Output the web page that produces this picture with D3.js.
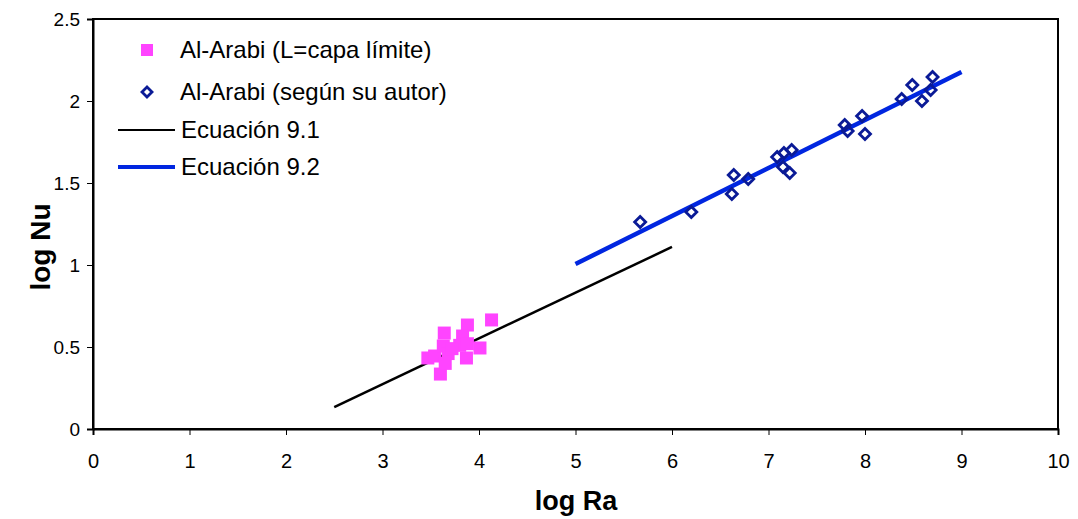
<!DOCTYPE html>
<html><head><meta charset="utf-8">
<script src="https://cdn.jsdelivr.net/npm/d3@7"></script>
<style>body{margin:0;background:#fff}svg{display:block;font-family:"Liberation Sans",Arial,sans-serif}</style>
</head><body><svg id="c" width="1078" height="519"></svg>
<script>
const xTicks=[0,1,2,3,4,5,6,7,8,9,10];
const yTicks=[0,0.5,1,1.5,2,2.5];
const pinkX=[4.13,3.88,3.64,3.83,4.01,3.87,3.60,3.47,3.54,3.63,3.65,3.68,3.80,3.88,3.72];
const pinkY=[0.665,0.634,0.585,0.567,0.494,0.433,0.335,0.433,0.445,0.506,0.40,0.46,0.51,0.52,0.49];
const blueX=[5.67,6.20,6.62,6.64,6.79,7.09,7.16,7.24,7.15,7.22,7.79,7.82,7.97,8.00,8.38,8.49,8.70,8.68,8.59];
const blueY=[1.262,1.323,1.433,1.549,1.524,1.659,1.683,1.701,1.598,1.561,1.854,1.817,1.909,1.799,2.012,2.098,2.146,2.067,2.0];
const eq91X=[2.5,6];const eq91Y=[0.134,1.11];
const eq92X=[5,9];const eq92Y=[1.006,2.177];
const legendLabels=["Al-Arabi (L=capa límite)","Al-Arabi (según su autor)","Ecuación 9.1","Ecuación 9.2"];

const svg=d3.select("#c");
const L=93,R=1058,T=19,B=429;
const x=d3.scaleLinear().domain([0,10]).range([L,R]);
const y=d3.scaleLinear().domain([0,2.5]).range([B,T]);

svg.append("rect").attr("x",L).attr("y",T).attr("width",R-L).attr("height",B-T)
 .attr("fill","none").attr("stroke","#000").attr("stroke-width",2);

const xa=svg.append("g").attr("transform",`translate(0,${B})`)
 .call(d3.axisBottom(x).tickValues(xTicks).tickSize(6).tickPadding(19).tickFormat(d3.format("d")));
const ya=svg.append("g").attr("transform",`translate(${L},0)`)
 .call(d3.axisLeft(y).tickValues(yTicks).tickSize(6).tickPadding(7).tickFormat(d=>String(d)));
[xa,ya].forEach(a=>{a.attr("font-size",null).attr("font-family",null);
 a.select(".domain").attr("stroke","#000").attr("stroke-width",2);
 a.selectAll("line").attr("stroke","#000");
 a.selectAll("text").style("font-size","20px").attr("fill","#000");});
ya.selectAll("text").style("font-size","19px");

const line=d3.line().x(d=>x(d[0])).y(d=>y(d[1]));
svg.append("path").attr("d",line(eq91X.map((v,i)=>[v,eq91Y[i]])))
 .attr("stroke","#000").attr("stroke-width",2.5).attr("fill","none");
svg.append("path").attr("d",line(eq92X.map((v,i)=>[v,eq92Y[i]])))
 .attr("stroke","#0026e0").attr("stroke-width",4.5).attr("fill","none");

svg.append("g").selectAll("rect").data(pinkX.map((v,i)=>[v,pinkY[i]])).join("rect")
 .attr("x",d=>x(d[0])-6.5).attr("y",d=>y(d[1])-6.5).attr("width",13).attr("height",13)
 .attr("fill","#ff44ff");

const diamond=(cx,cy,r)=>`M${cx},${cy-r}L${cx+r},${cy}L${cx},${cy+r}L${cx-r},${cy}Z`;
svg.append("g").selectAll("path").data(blueX.map((v,i)=>[v,blueY[i]])).join("path")
 .attr("d",d=>diamond(x(d[0]),y(d[1]),5.5))
 .attr("fill","none").attr("stroke","#0a1a96").attr("stroke-width",2.8);

// legend
const lg=svg.append("g").style("font-size","24px").attr("fill","#000");
lg.append("rect").attr("x",141).attr("y",44).attr("width",12).attr("height",12).attr("fill","#ff44ff");
lg.append("path").attr("d",diamond(147,92,5)).attr("fill","none").attr("stroke","#0a1a96").attr("stroke-width",2.8);
lg.append("line").attr("x1",118).attr("x2",175).attr("y1",130).attr("y2",130).attr("stroke","#000").attr("stroke-width",2);
lg.append("line").attr("x1",118).attr("x2",175).attr("y1",167).attr("y2",167).attr("stroke","#0026e0").attr("stroke-width",4);
const lx=[180,180,181,181], ly=[50,92,130,167];
legendLabels.forEach((t,i)=>lg.append("text").attr("x",lx[i]).attr("y",ly[i]).attr("dy","0.35em").text(t));

svg.append("text").attr("x",576).attr("y",510).attr("text-anchor","middle")
 .style("font-size","27px").attr("font-weight","bold").text("log Ra");
svg.append("text").attr("transform","translate(50,247) rotate(-90)").attr("text-anchor","middle")
 .style("font-size","28px").attr("font-weight","bold").text("log Nu");
</script></body></html>
